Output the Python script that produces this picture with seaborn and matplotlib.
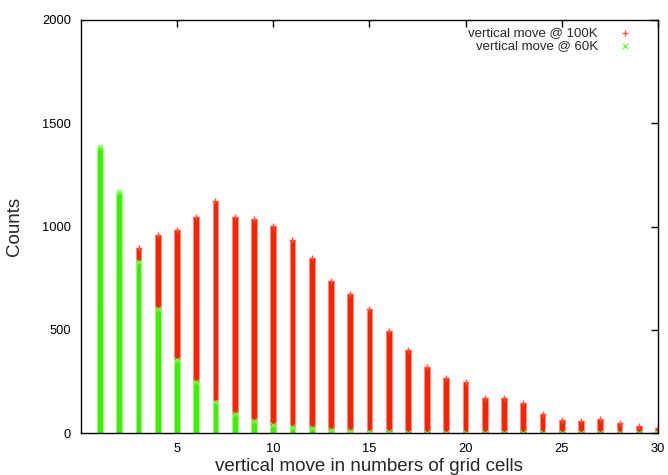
import numpy as np
import pandas as pd
import seaborn as sns
import matplotlib.pyplot as plt

# grid-cell moves and counts
moves = list(range(1, 31))
counts_100k = [600, 800, 896, 959, 983, 1048, 1125, 1046, 1037, 1003,
               935, 848, 737, 672, 601, 497, 402, 320, 265, 249,
               168, 171, 144, 92, 63, 61, 68, 47, 35, 25]
counts_60k = [1385, 1165, 830, 600, 354, 249, 149, 92, 60, 39,
              31, 23, 15, 10, 7, 5, 3, 2, 1, 0,
              0, 0, 0, 0, 0, 0, 0, 0, 0, 0]

RED = "#ff2200"
GREEN = "#3cf000"

sns.set_style("white")
plt.rcParams["font.family"] = ["Liberation Sans", "DejaVu Sans"]

fig = plt.figure(figsize=(6.68, 4.75), dpi=100)
ax = fig.add_axes([0.121, 0.088, 0.864, 0.870])

df = pd.DataFrame({"move": moves, "c100": counts_100k, "c60": counts_60k})

# red series first, green drawn over it (as in the original)
sns.barplot(data=df, x="move", y="c100", native_scale=True, width=0.3,
            color=RED, saturation=1, edgecolor="#ff9080", linewidth=0.6, ax=ax)
sns.scatterplot(data=df, x="move", y="c100", marker="+", color="#ff5040",
                s=20, linewidth=1, ax=ax, label="vertical move @ 100K")
sns.barplot(data=df, x="move", y="c60", native_scale=True, width=0.3,
            color=GREEN, saturation=1, edgecolor="#a8ff90", linewidth=0.6, ax=ax)
sns.scatterplot(data=df, x="move", y="c60", marker="x", color="#6cff40",
                s=14, linewidth=1, ax=ax, label="vertical move @ 60K")

ax.set_xlim(0, 30)
ax.set_ylim(0, 2000)
ax.set_xticks([5, 10, 15, 20, 25, 30])
ax.set_yticks([0, 500, 1000, 1500, 2000])
ax.tick_params(direction="in", length=5, width=1, top=True, right=True,
               labelsize=9.3, pad=7, colors="black")
for s in ax.spines.values():
    s.set_color("black")
    s.set_linewidth(1)

ax.set_xlabel("vertical move in numbers of grid cells", fontsize=13.5, labelpad=2)
ax.set_ylabel("Counts", fontsize=13.5, labelpad=14)

ax.legend(loc="upper right", bbox_to_anchor=(0.975, 0.995), frameon=False,
          markerfirst=False, fontsize=9.5, handletextpad=1.05,
          labelspacing=0.05, borderaxespad=0)

fig.savefig("out.png", dpi=100)
